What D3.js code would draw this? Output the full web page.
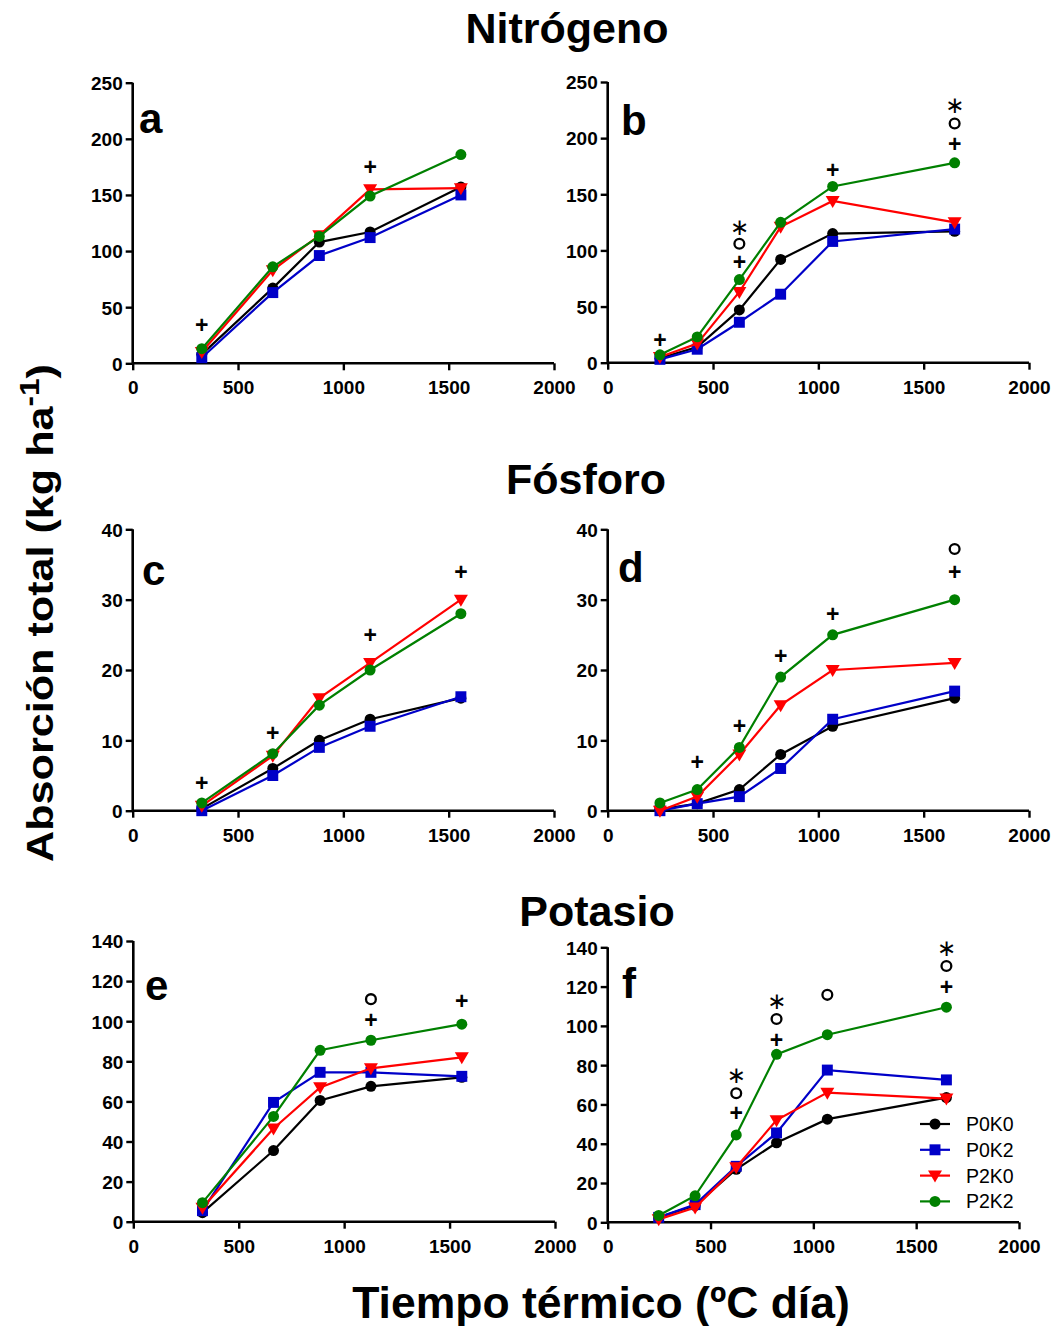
<!DOCTYPE html>
<html>
<head>
<meta charset="utf-8">
<script src="https://cdn.jsdelivr.net/npm/d3@7"></script>
<style>
  html, body { margin: 0; padding: 0; background: #fff; }
  svg { display: block; font-family: "Liberation Sans", Arial, sans-serif; }
</style>
</head>
<body>
<svg id="chart" width="1060" height="1326"></svg>
<script>
// Thermal time (ºC day) sampling dates for each site
const xSiteLeft = [328, 665, 886, 1127, 1558];
const xSiteRight = [248, 425, 625, 821, 1068, 1647];

const treatments = ["P0K0", "P0K2", "P2K0", "P2K2"];
const xTicks = [0, 500, 1000, 1500, 2000];

// Nitrogen uptake (kg ha-1)
const nA = {
  P0K0: [8, 67, 108, 117, 157],
  P0K2: [5, 63, 96, 112, 150],
  P2K0: [10, 83, 114, 155, 156],
  P2K2: [13, 86, 113, 149, 186]
};
const nB = {
  P0K0: [4, 14, 47, 92, 115, 117],
  P0K2: [3, 12, 36, 61, 108, 119],
  P2K0: [5, 17, 63, 121, 144, 125],
  P2K2: [7, 23, 74, 125, 157, 178]
};
// Phosphorus uptake (kg ha-1)
const pC = {
  P0K0: [0.3, 6, 10, 13, 16],
  P0K2: [0, 5, 9, 12, 16.2],
  P2K0: [0.7, 7.8, 16, 21, 30],
  P2K2: [1.1, 8.1, 15, 20, 28]
};
const pD = {
  P0K0: [0.2, 1, 3, 8, 12, 16],
  P0K2: [0, 1, 2, 6, 13, 17],
  P2K0: [0, 2, 8, 15, 20, 21],
  P2K2: [1.1, 3, 9, 19, 25, 30]
};
// Potassium uptake (kg ha-1)
const kE = {
  P0K0: [4.5, 35.5, 60.5, 67.5, 72],
  P0K2: [5.5, 59.5, 74.5, 74.5, 72.5],
  P2K0: [7, 46.5, 67, 76.5, 82],
  P2K2: [9.5, 52.5, 85.5, 90.5, 98.5]
};
const kF = {
  P0K0: [2.5, 8.5, 27, 40.5, 52.5, 63.5],
  P0K2: [2.5, 9, 28.5, 45.5, 77.5, 72.5],
  P2K0: [1.5, 7.5, 28, 52, 66, 63],
  P2K2: [3.5, 13.5, 44.5, 85.5, 95.5, 109.5]
};

// Significance marks: [thermal time, height, symbol]
const sigA = [[328, 34, "+"], [1127, 175, "+"]];
const sigB = [[248, 20, "+"], [625, 90, "+"], [625, 106, "o"], [625, 121, "*"],
              [1068, 172, "+"], [1647, 195, "+"], [1647, 213, "o"], [1647, 230, "*"]];
const sigC = [[328, 4, "+"], [665, 11, "+"], [1127, 25, "+"], [1558, 34, "+"]];
const sigD = [[425, 7, "+"], [625, 12, "+"], [821, 22, "+"], [1068, 28, "+"],
              [1647, 34, "+"], [1647, 37.2, "o"]];
const sigE = [[1127, 100.5, "+"], [1127, 111, "o"], [1558, 110, "+"]];
const sigF = [[625, 55.5, "+"], [625, 65.7, "o"], [625, 75, "*"],
              [821, 93, "+"], [821, 103.5, "o"], [821, 112.8, "*"],
              [1068, 115.8, "o"],
              [1647, 120, "+"], [1647, 130.5, "o"], [1647, 140, "*"]];

const yTicksN = [0, 50, 100, 150, 200, 250];
const yTicksP = [0, 10, 20, 30, 40];
const yTicksK = [0, 20, 40, 60, 80, 100, 120, 140];

const colors = { P0K0: "#000000", P0K2: "#0000c8", P2K0: "#ff0000", P2K2: "#008000" };
const shapes = { P0K0: d3.symbolCircle, P0K2: d3.symbolSquare, P2K0: "tri", P2K2: d3.symbolCircle };

const svg = d3.select("#chart");

function marker(g, t, cx, cy) {
  const s = shapes[t];
  if (s === "tri") {
    g.append("path")
      .attr("d", `M${cx - 7},${cy - 5} L${cx + 7},${cy - 5} L${cx},${cy + 7} Z`)
      .attr("fill", colors[t]);
  } else {
    const size = s === d3.symbolSquare ? 120 : 95;
    g.append("path")
      .attr("d", d3.symbol().type(s).size(size)())
      .attr("transform", `translate(${cx},${cy})`)
      .attr("fill", colors[t]);
  }
}

function panel(cfg) {
  const x = d3.scaleLinear().domain([0, 2000]).range([cfg.x0, cfg.x1]);
  const y = d3.scaleLinear().domain([0, cfg.yMax]).range([cfg.y0, cfg.y1]);
  const g = svg.append("g");

  // axes
  const ax = g.append("g").attr("transform", `translate(0,${cfg.y0})`)
    .call(d3.axisBottom(x).tickValues(xTicks).tickSize(7).tickPadding(5).tickFormat(d3.format("d")));
  const ay = g.append("g").attr("transform", `translate(${cfg.x0},0)`)
    .call(d3.axisLeft(y).tickValues(cfg.yTicks).tickSize(7).tickPadding(3).tickFormat(d3.format("d")));
  [ax, ay].forEach(a => {
    a.select(".domain").attr("stroke", "#000").attr("stroke-width", 2.6);
    a.selectAll(".tick line").attr("stroke", "#000").attr("stroke-width", 2.4);
    a.selectAll(".tick text").attr("fill", "#000").attr("font-size", 19).attr("font-weight", "bold")
      .attr("font-family", "Liberation Sans, Arial, sans-serif");
  });
  ax.select(".domain").attr("d", `M${cfg.x0},0H${cfg.x1}`);
  ay.select(".domain").attr("d", `M0,${cfg.y0}V${cfg.y1}`);
  ax.selectAll(".tick text").attr("dy", "1.0em");
  ay.selectAll(".tick text").attr("dy", "0.36em");

  // series
  const line = d3.line().x((d, i) => x(cfg.xs[i])).y(d => y(d));
  treatments.forEach(t => {
    g.append("path").datum(cfg.data[t])
      .attr("d", line).attr("fill", "none")
      .attr("stroke", colors[t]).attr("stroke-width", 2.2);
    cfg.data[t].forEach((v, i) => marker(g, t, x(cfg.xs[i]), y(v)));
  });

  // significance marks
  cfg.sig.forEach(([sx, sy, sym]) => {
    const cx = x(sx), cy = y(sy);
    if (sym === "o") {
      g.append("circle").attr("cx", cx).attr("cy", cy).attr("r", 4.9)
        .attr("fill", "none").attr("stroke", "#000").attr("stroke-width", 2.3);
    } else if (sym === "+") {
      g.append("text").attr("x", cx).attr("y", cy).attr("text-anchor", "middle")
        .attr("dy", "0.35em").attr("font-size", 23).attr("font-weight", "bold").text("+");
    } else {
      g.append("text").attr("x", cx).attr("y", cy).attr("text-anchor", "middle")
        .attr("dy", "0.36em").attr("font-size", 23)
        .attr("font-family", "DejaVu Sans, sans-serif").text("\u2217");
    }
  });

  // panel letter
  g.append("text").attr("x", cfg.lx).attr("y", cfg.ly)
    .attr("font-size", 42).attr("font-weight", "bold").text(cfg.letter);

  return { x, y, g };
}

panel({ x0: 132.7, x1: 554, y0: 363.3, y1: 82.7, yMax: 250, yTicks: yTicksN, xs: xSiteLeft, data: nA, sig: sigA, letter: "a", lx: 139, ly: 133 });
panel({ x0: 607.7, x1: 1029, y0: 362.7, y1: 82, yMax: 250, yTicks: yTicksN, xs: xSiteRight, data: nB, sig: sigB, letter: "b", lx: 621, ly: 135 });
panel({ x0: 132.7, x1: 554, y0: 810.7, y1: 529.3, yMax: 40, yTicks: yTicksP, xs: xSiteLeft, data: pC, sig: sigC, letter: "c", lx: 142, ly: 585 });
panel({ x0: 607.7, x1: 1029, y0: 810.7, y1: 529.3, yMax: 40, yTicks: yTicksP, xs: xSiteRight, data: pD, sig: sigD, letter: "d", lx: 618, ly: 582 });
panel({ x0: 133.3, x1: 555, y0: 1221.7, y1: 941, yMax: 140, yTicks: yTicksK, xs: xSiteLeft, data: kE, sig: sigE, letter: "e", lx: 145, ly: 1000 });
panel({ x0: 607.7, x1: 1019, y0: 1222.3, y1: 947.3, yMax: 140, yTicks: yTicksK, xs: xSiteRight, data: kF, sig: sigF, letter: "f", lx: 622, ly: 998 });

// nutrient titles
[["Nitrógeno", 567, 43], ["Fósforo", 586, 494], ["Potasio", 597, 926]].forEach(([t, cx, by]) => {
  svg.append("text").attr("x", cx).attr("y", by).attr("text-anchor", "middle")
    .attr("font-size", 43).attr("font-weight", "bold").text(t);
});

// legend
const legend = svg.append("g");
treatments.forEach((t, i) => {
  const ly = 1124 + i * 25.8;
  legend.append("line").attr("x1", 920).attr("x2", 950).attr("y1", ly).attr("y2", ly)
    .attr("stroke", colors[t]).attr("stroke-width", 2.2);
  marker(legend, t, 935, ly);
  legend.append("text").attr("x", 966).attr("y", ly).attr("dy", "0.36em")
    .attr("font-size", 19.5).text(t);
});

// axis titles
svg.append("text").attr("x", 601).attr("y", 1318).attr("text-anchor", "middle")
  .attr("font-size", 44.5).attr("font-weight", "bold").text("Tiempo térmico (ºC día)");

const yl = svg.append("text").attr("font-size", 37).attr("font-weight", "bold")
  .attr("text-anchor", "middle");
yl.append("tspan").text("Absorción total (kg ha");
yl.append("tspan").attr("font-size", 27).attr("dy", -14).text("-1");
yl.append("tspan").attr("dy", 14).text(")");
const len = yl.node().getComputedTextLength();
const sx = 498 / len;
yl.attr("transform", `translate(53,613) rotate(-90) scale(${sx},1)`);
</script>
</body>
</html>
